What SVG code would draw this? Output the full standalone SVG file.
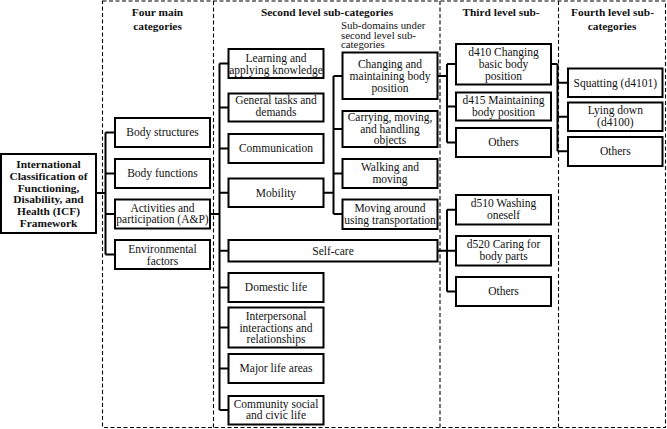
<svg xmlns="http://www.w3.org/2000/svg" width="667" height="429" viewBox="0 0 667 429">
  <style>
    .bg { fill: #ffffff; }
    .col { fill: none; stroke: #000; stroke-width: 1.1; stroke-dasharray: 4 2.5; }
    .box { fill: #ffffff; stroke: #000; stroke-width: 2; }
    .wire { fill: none; stroke: #000; stroke-width: 2; }
    text { font-family: "Liberation Serif", "Times New Roman", serif; font-size: 11.5px; fill: #111; }
    .c { text-anchor: middle; }
    .h { font-weight: bold; font-size: 11.4px; text-anchor: middle; }
    .note { font-size: 10.8px; }
  </style>

  <rect class="bg" x="0" y="0" width="667" height="429"/>

  <!-- dashed column frames -->
  <g id="columns">
    <path class="col" d="M102.5 1 H665.5 V427.5 H102.5 Z"/>
    <path class="col" d="M213.5 1 V427.5 M440 1 V427.5 M558.5 1 V427.5"/>
    <text class="h" x="157.5" y="16">Four main</text>
    <text class="h" x="157.5" y="29.5">categories</text>
    <text class="h" x="327" y="16">Second level sub-categories</text>
    <text class="note" x="341" y="28.8">Sub-domains under</text>
    <text class="note" x="341" y="38.6">second level sub-</text>
    <text class="note" x="341" y="48.2">categories</text>
    <text class="h" x="501" y="16">Third level sub-</text>
    <text class="h" x="612.5" y="16">Fourth level sub-</text>
    <text class="h" x="612" y="29.5">categories</text>
  </g>

  <!-- connectors -->
  <g id="connectors">
    <!-- root to four main categories -->
    <path class="wire" d="M96 193 H105.5 M105.5 132.5 V254.5 M105.5 132.5 H115 M105.5 173.5 H115 M105.5 214 H115 M105.5 254.5 H115"/>
    <!-- A&P to second level -->
    <path class="wire" d="M210 214 H219.5 M219.5 63.5 V410 M219.5 63.5 H228.5 M219.5 107.5 H228.5 M219.5 148.5 H228.5 M219.5 192.7 H228.5 M219.5 250.7 H228.5 M219.5 287.5 H228.5 M219.5 327.5 H228.5 M219.5 368.5 H228.5 M219.5 410 H228.5"/>
    <!-- mobility sub-domains -->
    <path class="wire" d="M323.5 192.7 H333.5 M333.5 76 V214 M333.5 76 H342.5 M333.5 129 H342.5 M333.5 173.5 H342.5 M333.5 214 H342.5"/>
    <!-- changing and maintaining body position to third level -->
    <path class="wire" d="M437.5 76 H447 M447 64 V142.5 M447 64 H456 M447 106.5 H456 M447 142.5 H456"/>
    <!-- self-care to third level -->
    <path class="wire" d="M437.5 250.7 H447 M447 209.7 V291.5 M447 209.7 H456 M447 250.7 H456 M447 291.5 H456"/>
    <!-- d410 to fourth level -->
    <path class="wire" d="M551 64 H557.5 M557.5 64 V151.3 M557.5 82.7 H568 M557.5 116.7 H568 M557.5 151.3 H568"/>
  </g>

  <!-- root -->
  <g id="icf">
    <rect class="box" x="1" y="154" width="95" height="79"/>
    <text class="h" x="48.5" y="168">International</text>
    <text class="h" x="48.5" y="179.5">Classification of</text>
    <text class="h" x="48.5" y="191.5">Functioning,</text>
    <text class="h" x="48.5" y="203.3">Disability, and</text>
    <text class="h" x="48.5" y="215.2">Health (ICF)</text>
    <text class="h" x="48.5" y="227.2">Framework</text>
  </g>

  <!-- four main categories -->
  <g id="body-structures">
    <rect class="box" x="115" y="118" width="95" height="29"/>
    <text class="c" x="162.5" y="136.4">Body structures</text>
  </g>
  <g id="body-functions">
    <rect class="box" x="115" y="159" width="95" height="29"/>
    <text class="c" x="162.5" y="177.4">Body functions</text>
  </g>
  <g id="activities-participation">
    <rect class="box" x="115" y="199.5" width="95" height="29"/>
    <text class="c" x="162.5" y="212.2">Activities and</text>
    <text class="c" x="162.5" y="223.2">participation (A&amp;P)</text>
  </g>
  <g id="environmental-factors">
    <rect class="box" x="115" y="240" width="95" height="29"/>
    <text class="c" x="162.5" y="253.2">Environmental</text>
    <text class="c" x="162.5" y="264.6">factors</text>
  </g>

  <!-- second level sub-categories -->
  <g id="learning">
    <rect class="box" x="228.5" y="49" width="95" height="29"/>
    <text class="c" x="276" y="61.9">Learning and</text>
    <text class="c" x="276" y="73.6">applying knowledge</text>
  </g>
  <g id="general-tasks">
    <rect class="box" x="228.5" y="93.5" width="95" height="28"/>
    <text class="c" x="276" y="103.9">General tasks and</text>
    <text class="c" x="276" y="115.9">demands</text>
  </g>
  <g id="communication">
    <rect class="box" x="228.5" y="134" width="95" height="29"/>
    <text class="c" x="276" y="151.6">Communication</text>
  </g>
  <g id="mobility">
    <rect class="box" x="228.5" y="178.5" width="95" height="28.5"/>
    <text class="c" x="276" y="196.6">Mobility</text>
  </g>
  <g id="self-care">
    <rect class="box" x="228.5" y="240" width="209" height="21.5"/>
    <text class="c" x="333" y="254.6">Self-care</text>
  </g>
  <g id="domestic-life">
    <rect class="box" x="228.5" y="273" width="95" height="29"/>
    <text class="c" x="276" y="291.4">Domestic life</text>
  </g>
  <g id="interpersonal">
    <rect class="box" x="228.5" y="307.5" width="95" height="40"/>
    <text class="c" x="276" y="320.2">Interpersonal</text>
    <text class="c" x="276" y="331.6">interactions and</text>
    <text class="c" x="276" y="343.2">relationships</text>
  </g>
  <g id="major-life-areas">
    <rect class="box" x="228.5" y="354" width="95" height="29"/>
    <text class="c" x="276" y="372.4">Major life areas</text>
  </g>
  <g id="community">
    <rect class="box" x="228.5" y="396" width="95" height="28.5"/>
    <text class="c" x="276" y="407.6">Community social</text>
    <text class="c" x="276" y="419.2">and civic life</text>
  </g>

  <!-- mobility sub-domains -->
  <g id="changing-maintaining">
    <rect class="box" x="342.5" y="52.5" width="95" height="46.5"/>
    <text class="c" x="390" y="67.6">Changing and</text>
    <text class="c" x="390" y="79.9">maintaining body</text>
    <text class="c" x="390" y="91.9">position</text>
  </g>
  <g id="carrying">
    <rect class="box" x="342.5" y="111" width="95" height="36"/>
    <text class="c" x="390" y="121.2">Carrying, moving,</text>
    <text class="c" x="390" y="132.6">and handling</text>
    <text class="c" x="390" y="144.2">objects</text>
  </g>
  <g id="walking">
    <rect class="box" x="342.5" y="159" width="95" height="29"/>
    <text class="c" x="390" y="170.6">Walking and</text>
    <text class="c" x="390" y="182.6">moving</text>
  </g>
  <g id="moving-around">
    <rect class="box" x="342.5" y="199.5" width="95" height="29.5"/>
    <text class="c" x="390" y="211.6">Moving around</text>
    <text class="c" x="390" y="223.9">using transportation</text>
  </g>

  <!-- third level sub-categories -->
  <g id="d410">
    <rect class="box" x="456" y="44" width="95" height="40.5"/>
    <text class="c" x="503.5" y="56.2">d410 Changing</text>
    <text class="c" x="503.5" y="67.9">basic body</text>
    <text class="c" x="503.5" y="79.9">position</text>
  </g>
  <g id="d415">
    <rect class="box" x="456" y="92.5" width="95" height="28"/>
    <text class="c" x="503.5" y="103.9">d415 Maintaining</text>
    <text class="c" x="503.5" y="116.2">body position</text>
  </g>
  <g id="others-d4">
    <rect class="box" x="456" y="128" width="95" height="29"/>
    <text class="c" x="503.5" y="146.2">Others</text>
  </g>
  <g id="d510">
    <rect class="box" x="456" y="195" width="95" height="29.5"/>
    <text class="c" x="503.5" y="206.6">d510 Washing</text>
    <text class="c" x="503.5" y="218.9">oneself</text>
  </g>
  <g id="d520">
    <rect class="box" x="456" y="236" width="95" height="29.5"/>
    <text class="c" x="503.5" y="248.2">d520 Caring for</text>
    <text class="c" x="503.5" y="259.9">body parts</text>
  </g>
  <g id="others-d5">
    <rect class="box" x="456" y="277" width="95" height="29"/>
    <text class="c" x="503.5" y="294.9">Others</text>
  </g>

  <!-- fourth level sub-categories -->
  <g id="squatting">
    <rect class="box" x="568" y="68.5" width="94.5" height="28.5"/>
    <text class="c" x="615.3" y="86.6">Squatting (d4101)</text>
  </g>
  <g id="lying-down">
    <rect class="box" x="568" y="102.5" width="94.5" height="28.5"/>
    <text class="c" x="615.3" y="113.9">Lying down</text>
    <text class="c" x="615.3" y="126.2">(d4100)</text>
  </g>
  <g id="others-d410">
    <rect class="box" x="568" y="137" width="94.5" height="29"/>
    <text class="c" x="615.3" y="155.2">Others</text>
  </g>
</svg>
